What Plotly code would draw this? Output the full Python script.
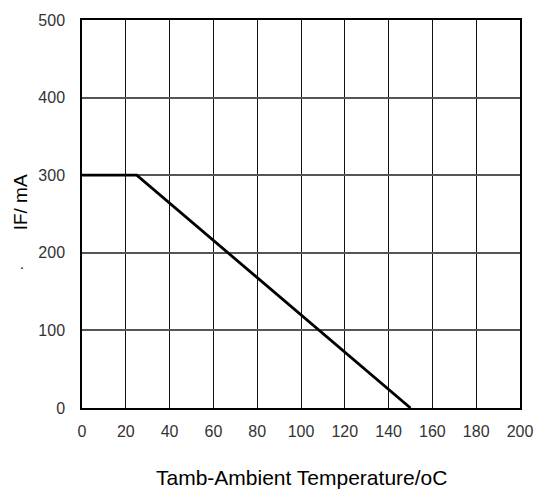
import plotly.graph_objects as go

temp = [0, 25, 150]
current = [300, 300, 0]
x_ticks = [0, 20, 40, 60, 80, 100, 120, 140, 160, 180, 200]
y_ticks = [0, 100, 200, 300, 400, 500]

fig = go.Figure()
fig.add_trace(go.Scatter(x=temp, y=current, mode="lines",
                         line=dict(color="black", width=2.8), showlegend=False))

font = "Liberation Sans, Arial, sans-serif"
fig.update_layout(
    width=545, height=491,
    margin=dict(l=82, r=19, t=19, b=83),
    paper_bgcolor="white", plot_bgcolor="white",
    font=dict(family=font, size=16, color="#333"),
    xaxis=dict(range=[0, 200], tickvals=x_ticks, showgrid=True, gridcolor="#111", gridwidth=1,
               showline=True, linecolor="black", linewidth=1.5, mirror=True, zeroline=False,
               ticks="", ticklabelstandoff=8),
    yaxis=dict(range=[0, 500], tickvals=y_ticks, showgrid=True, gridcolor="#555", gridwidth=1.6,
               showline=True, linecolor="black", linewidth=1.5, mirror=True, zeroline=False,
               ticks="", ticklabelstandoff=12),
    annotations=[
        dict(text="Tamb-Ambient Temperature/oC", xref="paper", yref="paper", x=0.5, y=0,
             yshift=-69, xanchor="center", yanchor="middle", showarrow=False,
             font=dict(family=font, size=21, color="black")),
        dict(text="IF/ mA", xref="paper", yref="paper", x=0, y=0.53, xshift=-62,
             xanchor="center", yanchor="middle", textangle=-90, showarrow=False,
             font=dict(family=font, size=19, color="black")),
        dict(text=".", xref="paper", yref="paper", x=0, y=0.37, xshift=-60,
             xanchor="center", yanchor="middle", showarrow=False,
             font=dict(family=font, size=14, color="black")),
    ],
)
fig.write_html("out.html", config={"displayModeBar": False},
               post_script="document.body.style.margin='0';document.body.style.overflow='hidden';")
